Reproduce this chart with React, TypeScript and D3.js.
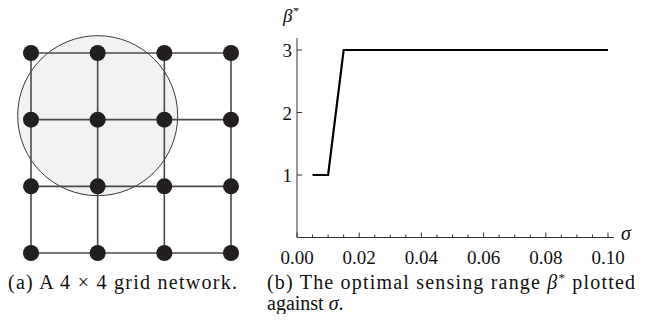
import { useEffect, useRef } from 'react';
import * as d3 from 'd3';

// (a) grid network: 4 x 4 nodes, indices along each side
const gridIdx = [0, 1, 2, 3];
// sensing disc centred on node (col 1, row 1), radius in grid units
const discCenter = [1, 1];
const discRadius = 1.2;

// (b) optimal sensing range vs sigma
const sigma = [0.005, 0.01, 0.015, 0.1];
const beta = [1, 1, 3, 3];
const xTicks = [0, 0.02, 0.04, 0.06, 0.08, 0.1];
const yTicks = [1, 2, 3];

const captionA = '(a) A 4 × 4 grid network.';
const captionB1 = '(b) The optimal sensing range ';
const captionB2 = 'against ';

const serif = 'Liberation Serif, Times New Roman, Times, serif';

export default function App() {
    const svgRef = useRef<SVGSVGElement>(null);

    useEffect(() => {
        if (!svgRef.current) return;
        const svg = d3.select(svgRef.current);
        svg.selectAll('*').remove();

        // ---------- (a) grid ----------
        const gx = d3.scaleLinear().domain([0, 3]).range([31, 231]);
        const gy = d3.scaleLinear().domain([0, 3]).range([53, 253]);
        const ga = svg.append('g');

        ga.append('circle')
            .attr('cx', gx(discCenter[0]))
            .attr('cy', gy(discCenter[1]) - 4)
            .attr('r', gx(discRadius) - gx(0))
            .attr('fill', '#f1f2f4')
            .attr('stroke', '#3a3a3a')
            .attr('stroke-width', 1);

        const edges: [number, number, number, number][] = [];
        gridIdx.forEach((r) => {
            gridIdx.slice(0, -1).forEach((c) => {
                edges.push([c, r, c + 1, r]);
                edges.push([r, c, r, c + 1]);
            });
        });
        ga.selectAll('line.edge')
            .data(edges)
            .enter()
            .append('line')
            .attr('class', 'edge')
            .attr('x1', (d) => gx(d[0]))
            .attr('y1', (d) => gy(d[1]))
            .attr('x2', (d) => gx(d[2]))
            .attr('y2', (d) => gy(d[3]))
            .attr('stroke', '#4a4a4a')
            .attr('stroke-width', 1.6);

        const nodes = gridIdx.flatMap((r) => gridIdx.map((c) => [c, r]));
        ga.selectAll('circle.node')
            .data(nodes)
            .enter()
            .append('circle')
            .attr('class', 'node')
            .attr('cx', (d) => gx(d[0]))
            .attr('cy', (d) => gy(d[1]))
            .attr('r', 8)
            .attr('fill', '#231f20');

        ga.append('text')
            .attr('x', 8)
            .attr('y', 289)
            .style('font-family', serif)
            .attr('font-size', 20)
            .attr('textLength', 229)
            .attr('lengthAdjust', 'spacing')
            .attr('fill', '#111')
            .text(captionA);

        // ---------- (b) line chart ----------
        const x = d3.scaleLinear().domain([0, 0.1]).range([297, 608]);
        const y = d3.scaleLinear().domain([0, 3]).range([237.5, 50]);
        const gb = svg.append('g');

        // axes lines
        gb.append('line')
            .attr('x1', x(0)).attr('x2', 614)
            .attr('y1', y(0)).attr('y2', y(0))
            .attr('stroke', '#333').attr('stroke-width', 1);
        gb.append('line')
            .attr('x1', x(0)).attr('x2', x(0))
            .attr('y1', y(0)).attr('y2', 38)
            .attr('stroke', '#333').attr('stroke-width', 1);

        // x ticks
        const minor = d3.range(0, 0.1001, 0.005);
        gb.selectAll('line.xt')
            .data(minor)
            .enter()
            .append('line')
            .attr('x1', (d) => x(d)).attr('x2', (d) => x(d))
            .attr('y1', y(0))
            .attr('y2', (d, i) => y(0) - (i % 4 === 0 ? 5 : 3))
            .attr('stroke', '#333').attr('stroke-width', 1);
        gb.selectAll('text.xl')
            .data(xTicks)
            .enter()
            .append('text')
            .attr('x', (d) => x(d))
            .attr('y', 264)
            .attr('text-anchor', 'middle')
            .style('font-family', serif)
            .attr('font-size', 19)
            .attr('fill', '#111')
            .text((d) => d3.format('.2f')(d));

        // y ticks
        gb.selectAll('line.yt')
            .data(yTicks)
            .enter()
            .append('line')
            .attr('x1', x(0)).attr('x2', x(0) + 5)
            .attr('y1', (d) => y(d)).attr('y2', (d) => y(d))
            .attr('stroke', '#333').attr('stroke-width', 1);
        gb.selectAll('text.yl')
            .data(yTicks)
            .enter()
            .append('text')
            .attr('x', x(0) - 5)
            .attr('y', (d) => y(d) + 7)
            .attr('text-anchor', 'end')
            .style('font-family', serif)
            .attr('font-size', 19)
            .attr('fill', '#111')
            .text((d) => d);

        // axis labels
        gb.append('text')
            .attr('x', 283).attr('y', 22)
            .style('font-family', serif).attr('font-style', 'italic')
            .attr('font-size', 19).attr('fill', '#111')
            .text('β')
            .append('tspan')
            .attr('dy', -7).attr('font-size', 12).text('*');
        gb.append('text')
            .attr('x', 621).attr('y', 240)
            .style('font-family', serif).attr('font-style', 'italic')
            .attr('font-size', 20).attr('fill', '#111')
            .text('σ');

        // data line
        const line = d3.line<number>()
            .x((d, i) => x(sigma[i]))
            .y((d) => y(d));
        gb.append('path')
            .datum(beta)
            .attr('d', line)
            .attr('fill', 'none')
            .attr('stroke', '#000')
            .attr('stroke-width', 2.2)
            .attr('stroke-linejoin', 'miter');

        // caption (b)
        const c1 = gb.append('text')
            .attr('x', 267).attr('y', 289)
            .style('font-family', serif).attr('font-size', 20)
            .attr('textLength', 368).attr('lengthAdjust', 'spacing')
            .attr('fill', '#111');
        c1.append('tspan').text(captionB1);
        c1.append('tspan').attr('font-style', 'italic').text('β');
        c1.append('tspan').attr('dy', -7).attr('font-size', 13).text('*');
        c1.append('tspan').attr('dy', 7).text(' plotted');
        const c2 = gb.append('text')
            .attr('x', 267).attr('y', 310)
            .style('font-family', serif).attr('font-size', 20)
            .attr('fill', '#111');
        c2.append('tspan').text(captionB2);
        c2.append('tspan').attr('font-style', 'italic').text('σ');
        c2.append('tspan').text('.');
    }, []);

    return (
        <div style={{ margin: -8 }}>
            <svg ref={svgRef} width={651} height={322} style={{ display: 'block', background: '#fff' }}></svg>
        </div>
    );
}
